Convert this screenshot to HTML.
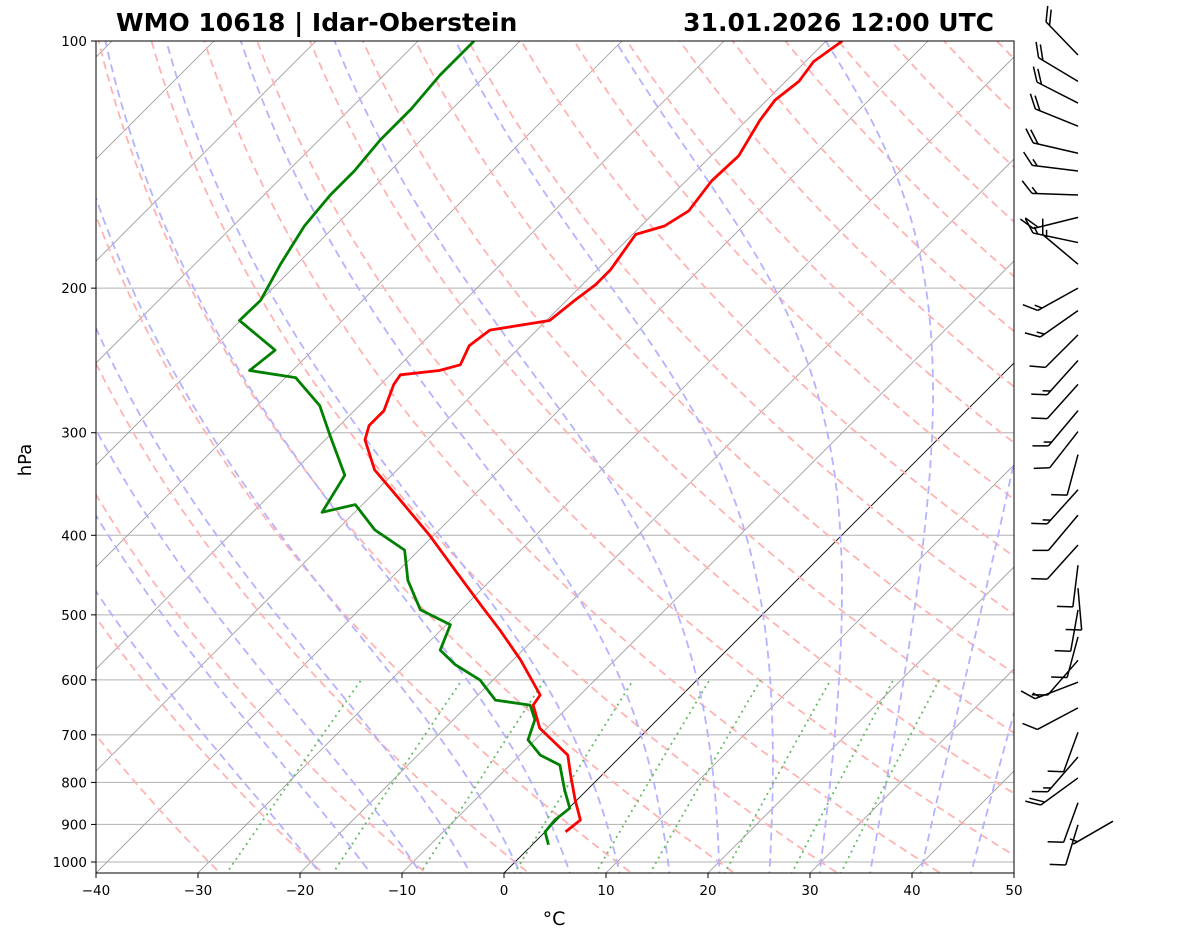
<!DOCTYPE html>
<html><head><meta charset="utf-8"><style>
body{margin:0;background:#fff;font-family:"DejaVu Sans","Liberation Sans",sans-serif}
svg text{font-family:"DejaVu Sans","Liberation Sans",sans-serif}
</style></head><body>
<svg id="c" width="1181" height="941" xmlns="http://www.w3.org/2000/svg">
<defs><clipPath id="clip"><rect x="96" y="41" width="918" height="832"/></clipPath></defs>
<rect width="1181" height="941" fill="#fff"/>
<g id="bg" clip-path="url(#clip)"></g>
<g id="data" clip-path="url(#clip)"></g>
<rect x="96" y="41" width="918" height="832" fill="none" stroke="#000" stroke-width="1"/>
<g id="axes"></g>
<g id="barbs"></g>
<text x="116" y="31" font-size="25" font-weight="bold">WMO 10618 | Idar-Oberstein</text>
<text x="994" y="31" font-size="25" font-weight="bold" text-anchor="end">31.01.2026 12:00 UTC</text>
<text x="554" y="925" font-size="19" text-anchor="middle">°C</text>
<text x="31" y="460" font-size="18" text-anchor="middle" transform="rotate(-90 31 460)">hPa</text>
</svg>
<script>
const tempP=[100,106,112,118,125,138,148,161,168,172,190,198,207,219,225,235,248,252,255,262,282,294,306,333,362,400,441,486,522,567,626,644,687,741,783,840,889,919];
const tempT=[-48.4,-49.2,-48.7,-49.2,-48.7,-47.3,-47.5,-46.8,-47.7,-49.7,-48.7,-48.7,-49.2,-49.7,-54.6,-55.1,-54.1,-55.6,-59,-58.7,-57.1,-57.1,-56.1,-52.2,-46.8,-40.4,-34.5,-28.6,-24.2,-19.3,-13.9,-13.6,-10.7,-5.3,-3.1,-0.2,2.3,2.0];
const dewP=[100,110,121,132,144,154,168,187,207,219,238,252,257,278,302,338,375,367,394,417,454,493,514,552,575,600,635,644,671,710,741,762,817,860,889,919,953];
const dewT=[-84.5,-84.5,-84,-84,-83.5,-83.5,-83,-81.6,-80,-80.1,-73.7,-74.2,-69,-63.9,-60,-54.6,-53.2,-50.7,-46.3,-41.4,-38.1,-34,-29.6,-28.1,-25.2,-21.3,-17.8,-13.9,-12,-10.7,-8,-5.1,-2.2,0.1,-0.2,0,1.6];
const pTicks=[100,200,300,400,500,600,700,800,900,1000];
const tTicks=[-40,-30,-20,-10,0,10,20,30,40,50];
const barbP=[104,112,119,127,137,144,154,164,176,187,200,213,228,245,262,282,299,319,352,378,411,435,464,493,532,568,604,649,695,745,790,847,901,907];
const barbAng=[134,149,153,158,167,173,178,194,168,140,209,215,225,228,228,230,232,255,228,230,228,263,275,260,255,229,201,208,250,229,216,250,253,210];
const barbSpd=[20,20,20,20,20,15,15,20,15,15,15,15,10,15,10,15,10,10,15,10,10,10,10,10,10,10,15,10,10,15,20,10,10,5];
const NS='http://www.w3.org/2000/svg';
const yP=p=>41+821*Math.log10(p/100);
const xT=(t,p)=>96+(t+40)*10.2+(873-yP(p));
function mk(tag,attrs,parent){const e=document.createElementNS(NS,tag);for(const k in attrs)e.setAttribute(k,attrs[k]);parent.appendChild(e);return e;}
const bg=document.getElementById('bg'),dg=document.getElementById('data'),ax=document.getElementById('axes'),bb=document.getElementById('barbs');
function poly(pts,style,parent,name){const e=mk('polyline',Object.assign({points:pts.map(q=>q[0].toFixed(1)+','+q[1].toFixed(1)).join(' '),fill:'none'},style),parent);

return e;}
const pLev=[];for(let p=1050;p>=95;p-=5)pLev.push(p);
pTicks.forEach(p=>{const l=mk('line',{x1:96,x2:1014,y1:yP(p),y2:yP(p),stroke:'#b0b0b0','stroke-width':1},bg);

});
for(let t=-140;t<=50;t+=10){poly([[xT(t,1050),yP(1050)],[xT(t,90),yP(90)]],{stroke:t===0?'#000':'#999','stroke-width':t===0?0.9:0.8},bg,'isotherm');}
for(let th=-30;th<=260;th+=10){const pts=pLev.map(p=>{const T=(th+273.15)*Math.pow(p/1000,0.2857)-273.15;return [xT(T,p),yP(p)];});
poly(pts,{stroke:'#ffb3b3','stroke-width':1.8,'stroke-dasharray':'8,5'},bg,'dry-adiabat');}
function es(T){return 6.112*Math.exp(17.67*T/(T+243.5));}
function dTdp(T,p){const Tk=T+273.15,e=es(T),rs=0.622*e/(p-e),Rd=287,Lv=2.501e6,Cp=1005;
return (1/p)*(Rd*Tk+Lv*rs)/(Cp+Lv*Lv*rs*0.622/(Rd*Tk*Tk));}
for(let t0=-20;t0<=45;t0+=5){const up=[],dn=[];let T=t0;
for(let p=1000;p>=100;p-=5){up.push([xT(T,p),yP(p)]);T-=dTdp(T,p)*5;}
T=t0;for(let p=1000;p<=1050;p+=5){dn.unshift([xT(T,p),yP(p)]);T+=dTdp(T,p)*5;}
poly(dn.concat(up),{stroke:'#b3b3ff','stroke-width':1.8,'stroke-dasharray':'8,5'},bg,'moist-adiabat');}
[0.0004,0.001,0.002,0.004,0.007,0.01,0.016,0.024,0.032].forEach(w=>{const pts=[];for(let p=1050;p>=600;p-=10){const e=p*w/(0.622+w),l=Math.log(e/6.112),Td=243.5*l/(17.67-l);pts.push([xT(Td,p),yP(p)]);}
poly(pts,{stroke:'#66bb66','stroke-width':1.8,'stroke-dasharray':'2,4'},bg,'mixing-ratio-line');});
poly(tempP.map((p,i)=>[xT(tempT[i],p),yP(p)]),{stroke:'#ff0000','stroke-width':2.8,'stroke-linejoin':'round'},dg,'temperature-line');
poly(dewP.map((p,i)=>[xT(dewT[i],p),yP(p)]),{stroke:'#008000','stroke-width':2.8,'stroke-linejoin':'round'},dg,'dewpoint-line');
pTicks.forEach(p=>{const y=yP(p);mk('line',{x1:91,x2:96,y1:y,y2:y,stroke:'#000'},ax);
const t=mk('text',{x:87,y:y+5,'font-size':13.5,'text-anchor':'end'},ax);t.textContent=p;

});
tTicks.forEach(v=>{const x=96+(v+40)*10.2;mk('line',{x1:x,x2:x,y1:873,y2:878,stroke:'#000'},ax);
const t=mk('text',{x:x,y:895,'font-size':13.5,'text-anchor':'middle'},ax);t.textContent=(v<0?'\u2212'+(-v):v);

});
barbP.forEach((p,i)=>{const last=(i===barbP.length-1);const ay=yP(p)-(last?6:0),axx=last?1113:1078,L=(barbAng[i]>240?42:46),a=barbAng[i]*Math.PI/180;
const dx=Math.cos(a),dy=-Math.sin(a),tx=axx+L*dx,ty=ay+L*dy;
const g=mk('g',{stroke:'#000','stroke-width':1.5,fill:'none'},bb);


mk('line',{x1:axx,y1:ay,x2:tx,y2:ty},g);
const bdeg=barbAng[i]>240?178:barbAng[i]-50;
const ba=bdeg*Math.PI/180,bx=Math.cos(ba),by=-Math.sin(ba);
let s=barbSpd[i],k=0;
while(s>=10){const sx=tx-dx*k*5,sy=ty-dy*k*5;mk('line',{x1:sx,y1:sy,x2:sx+bx*16,y2:sy+by*16},g);s-=10;k++;}
if(s>=5){const off=(k===0?5:k*5),sx=tx-dx*off,sy=ty-dy*off;mk('line',{x1:sx,y1:sy,x2:sx+bx*8,y2:sy+by*8},g);}
});
</script>
</body></html>
